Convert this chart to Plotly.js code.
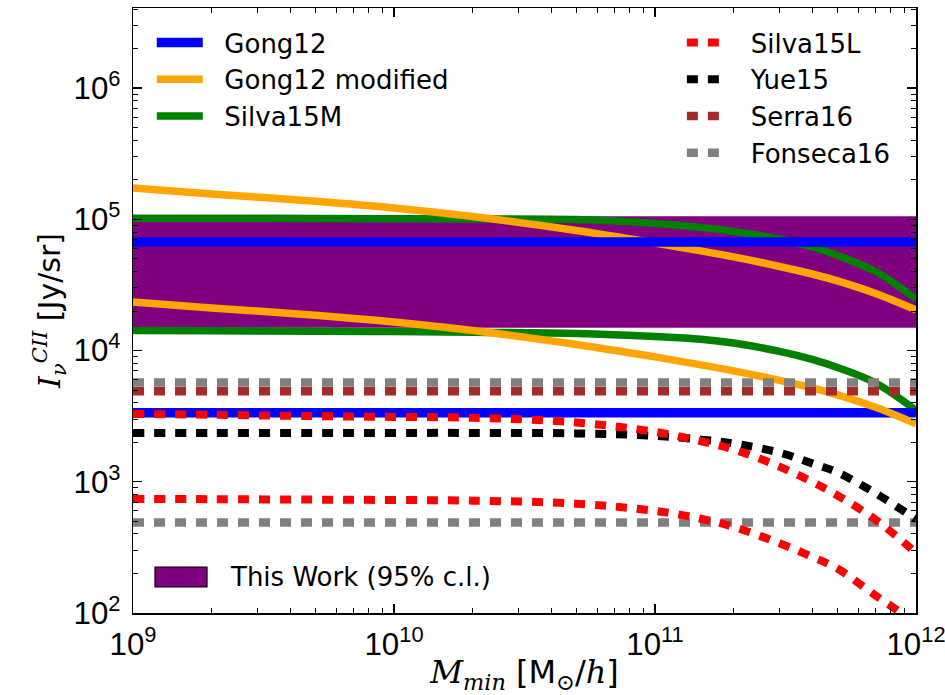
<!DOCTYPE html>
<html>
<head>
<meta charset="utf-8">
<script src="https://cdn.plot.ly/plotly-3.0.1.min.js"></script>
<style>
  html, body { margin: 0; padding: 0; background: #fff; }
  #plot { width: 945px; height: 695px; }
</style>
</head>
<body>
<div id="plot"></div>
<script>
// Minimum halo mass grid [M_sun/h]
const massGrid = [1e9, 2e9, 5e9, 1e10, 2e10, 5e10, 1e11, 1.5e11, 2e11, 3e11, 4e11, 5e11, 7e11, 1e12];
const massEnds = [1e9, 1e12];

// This Work, 95% c.l. band [Jy/sr]
const bandLow = 1.5e4;
const bandHigh = 1.05e5;

// Gong12 (constant, upper and lower)
const gong12High = 6.7e4;
const gong12Low = 3.35e3;

// Gong12 modified
const gongModHigh = [1.73e5, 1.56e5, 1.37e5, 1.22e5, 1.05e5, 8.22e4, 6.6e4, 5.74e4, 5.17e4, 4.37e4, 3.83e4, 3.39e4, 2.72e4, 2.04e4];
const gongModLow  = [2.34e4, 2.11e4, 1.86e4, 1.65e4, 1.42e4, 1.11e4, 8.94e3, 7.78e3, 7.0e3, 5.92e3, 5.19e3, 4.59e3, 3.69e3, 2.76e3];

// Silva15M
const silvaMHigh = [1.02e5, 1.02e5, 1.015e5, 1.01e5, 1.005e5, 9.95e4, 9.3e4, 8.65e4, 8.07e4, 7.08e4, 6.15e4, 5.3e4, 4.0e4, 2.47e4];
const silvaMLow  = [1.42e4, 1.415e4, 1.405e4, 1.395e4, 1.38e4, 1.35e4, 1.28e4, 1.22e4, 1.14e4, 9.85e3, 8.55e3, 7.43e3, 5.66e3, 3.5e3];

// Silva15L
const silvaLHigh = [3290, 3240, 3165, 3120, 3075, 2830, 2400, 2035, 1765, 1305, 998, 787, 514, 287];
const silvaLLow  = [741, 737, 731, 726, 718, 681, 600, 523, 453, 340, 268, 218, 136, 84];

// Yue15
const yue15 = [2357, 2357, 2357, 2357, 2357, 2337, 2240, 2095, 1960, 1667, 1381, 1180, 817, 518];

// Serra16 and Fonseca16 (constant)
const serra16 = 4.9e3;
const fonsecaHigh = 5.7e3;
const fonsecaLow = 490;

const FONT = 'DejaVu Sans, Liberation Sans, sans-serif';
const TICKFONT = 'Liberation Sans, Arial, sans-serif';
const SERIF = 'DejaVu Serif, Liberation Serif, serif';
const DASH = '11px,10px';
const GAP2 = '\u00a0\u00a0';
const GAP3 = '\u00a0\u00a0\u00a0';

function flat(v) { return massEnds.map(() => v); }

function curve(name, y, color, width, dash, legendId, group, show, rank) {
  return {
    type: 'scatter', mode: 'lines', name: name,
    x: y.length === 2 ? massEnds : massGrid, y: y,
    line: { color: color, width: width, dash: dash, shape: 'spline', smoothing: 1 },
    legend: legendId, legendgroup: group, showlegend: show, legendrank: rank,
    hoverinfo: 'skip'
  };
}

const band = {
  type: 'scatter', mode: 'lines', name: 'This Work (95% c.l.)',
  x: [massEnds[0], massEnds[1], massEnds[1], massEnds[0], massEnds[0]],
  y: [bandLow, bandLow, bandHigh, bandHigh, bandLow],
  fill: 'toself', fillcolor: '#800080',
  line: { color: '#800080', width: 0.5 },
  showlegend: false, hoverinfo: 'skip'
};

const traces = [
  band,
  curve(GAP2 + 'Silva15M', silvaMHigh, '#008000', 7.5, 'solid', 'legend', 'sm', true, 3),
  curve(GAP2 + 'Silva15M', silvaMLow, '#008000', 7.5, 'solid', 'legend', 'sm', false, 3),
  curve(GAP2 + 'Gong12', flat(gong12Low), '#0000ff', 9.5, 'solid', 'legend', 'g12', false, 1),
  curve(GAP2 + 'Gong12 modified', gongModHigh, '#ffa500', 7.5, 'solid', 'legend', 'gm', true, 2),
  curve(GAP2 + 'Gong12 modified', gongModLow, '#ffa500', 7.5, 'solid', 'legend', 'gm', false, 2),
  curve(GAP2 + 'Gong12', flat(gong12High), '#0000ff', 9.5, 'solid', 'legend', 'g12', true, 1),
  curve(GAP3 + 'Fonseca16', flat(fonsecaHigh), '#808080', 8.5, DASH, 'legend2', 'f16', true, 4),
  curve(GAP3 + 'Fonseca16', flat(fonsecaLow), '#808080', 8.5, DASH, 'legend2', 'f16', false, 4),
  curve(GAP3 + 'Serra16', flat(serra16), '#a52a2a', 8.5, DASH, 'legend2', 's16', true, 3),
  curve(GAP3 + 'Yue15', yue15, '#000000', 8, DASH, 'legend2', 'y15', true, 2),
  curve(GAP3 + 'Silva15L', silvaLHigh, '#ff0000', 8, DASH, 'legend2', 'sl', true, 1),
  curve(GAP3 + 'Silva15L', silvaLLow, '#ff0000', 8, DASH, 'legend2', 'sl', false, 1)
];

const axisCommon = {
  type: 'log', showgrid: false, zeroline: false,
  showline: true, linecolor: '#000', linewidth: 1.5, mirror: 'ticks',
  ticks: 'inside', ticklen: 9, tickwidth: 1.3, tickcolor: '#000',
  dtick: 1, exponentformat: 'power', ticklabeloverflow: 'allow',
  minor: { ticks: 'inside', ticklen: 5, tickwidth: 1, tickcolor: '#000', dtick: 'D1', showgrid: false },
  tickfont: { family: TICKFONT, size: 25, color: '#000' }
};

const legendCommon = {
  xanchor: 'left', yanchor: 'top',
  bgcolor: 'rgba(0,0,0,0)', borderwidth: 0,
  font: { family: FONT, size: 26, color: '#000' },
  tracegroupgap: 6.5, traceorder: 'normal'
};

const layout = {
  width: 945, height: 695,
  margin: { l: 133, r: 29, t: 8, b: 82 },
  paper_bgcolor: '#fff', plot_bgcolor: '#fff',
  showlegend: true,
  xaxis: Object.assign({}, axisCommon, {
    range: [9, 12],
    ticklabelstandoff: 4,
    title: {
      text: '<i>M</i><sub><i>min</i></sub> <span style="font-family:DejaVu Sans">[M</span><sub>⊙</sub><span style="font-family:DejaVu Sans">/</span><i>h</i><span style="font-family:DejaVu Sans">]</span>',
      font: { family: SERIF, size: 32, color: '#000' },
      standoff: 12
    }
  }),
  yaxis: Object.assign({}, axisCommon, {
    range: [2, 6.61],
    ticklabelstandoff: 6,
    title: {
      text: '<i>I</i><sub><i>ν</i></sub><sup><i>CII</i></sup> <span style="font-family:DejaVu Sans">[Jy/sr]</span>',
      font: { family: SERIF, size: 30, color: '#000' },
      standoff: 4
    }
  }),
  legend: Object.assign({}, legendCommon, { x: 0.024, y: 0.9817, itemwidth: 46 }),
  legend2: Object.assign({}, legendCommon, { x: 0.701, y: 0.9817, itemwidth: 34 }),
  // key for the shaded band
  shapes: [{
    type: 'rect', xref: 'paper', yref: 'paper',
    x0: 0.0281, x1: 0.0945, y0: 0.043, y1: 0.076,
    fillcolor: '#800080', line: { color: '#000', width: 1.2 }
  }],
  annotations: [{
    xref: 'paper', yref: 'paper', x: 0.1213, y: 0.0595,
    xanchor: 'left', yanchor: 'middle', showarrow: false,
    text: 'This Work (95% c.l.)',
    font: { family: FONT, size: 26, color: '#000' }
  }]
};

Plotly.newPlot('plot', traces, layout, { staticPlot: true, displayModeBar: false });
</script>
</body>
</html>
